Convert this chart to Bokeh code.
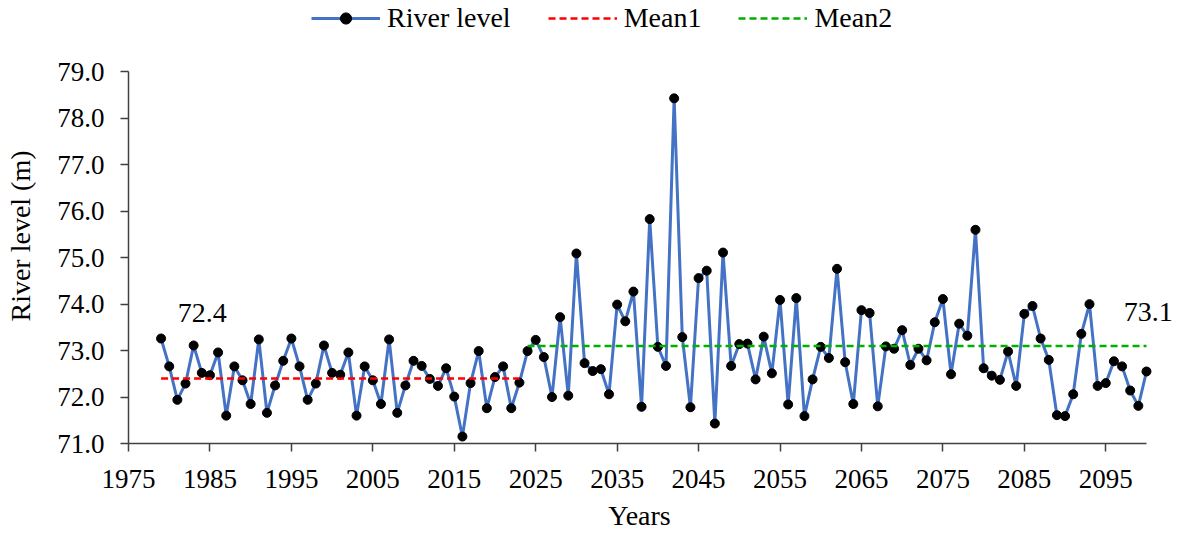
from bokeh.plotting import figure
from bokeh.models import (FixedTicker, PrintfTickFormatter, Legend, LegendItem,
                          Label, Range1d)
from bokeh.embed import file_html
from bokeh.resources import INLINE

# ---------------- data ----------------
years = list(range(1979, 2101))
river_level = [
    73.26, 72.66, 71.94, 72.29, 73.11, 72.52, 72.47, 72.96, 71.60, 72.66,  # 1979-1988
    72.36, 71.85, 73.24, 71.66, 72.25, 72.78, 73.26, 72.66, 71.94, 72.29,  # 1989-1998
    73.11, 72.52, 72.48, 72.96, 71.60, 72.66, 72.36, 71.85, 73.24, 71.66,  # 1999-2008
    72.25, 72.78, 72.67, 72.39, 72.24, 72.62, 72.01, 71.15, 72.30, 72.99,  # 2009-2018
    71.76, 72.43, 72.66, 71.76, 72.31, 72.99, 73.23, 72.86, 72.00, 73.72,  # 2019-2028
    72.03, 75.09, 72.73, 72.56, 72.60, 72.06, 73.99, 73.63, 74.27, 71.79,  # 2029-2038
    75.83, 73.08, 72.67, 78.43, 73.29, 71.78, 74.56, 74.72, 71.43, 75.11,  # 2039-2048
    72.67, 73.14, 73.15, 72.38, 73.30, 72.51, 74.09, 71.84, 74.13, 71.59,  # 2049-2058
    72.38, 73.08, 72.84, 74.76, 72.75, 71.85, 73.87, 73.81, 71.80, 73.09,  # 2059-2068
    73.04, 73.44, 72.69, 73.04, 72.79, 73.61, 74.11, 72.49, 73.58, 73.32,  # 2069-2078
    75.60, 72.62, 72.46, 72.37, 72.98, 72.24, 73.79, 73.96, 73.26, 72.80,  # 2079-2088
    71.61, 71.59, 72.06, 73.36, 74.00, 72.24, 72.30, 72.77, 72.66, 72.14,  # 2089-2098
    71.81, 72.55,                                                          # 2099-2100
]
mean1_years = [1979, 2023]
mean1_value = 72.4
mean2_years = [2024, 2100]
mean2_value = 73.1
x_ticks = [1975, 1985, 1995, 2005, 2015, 2025, 2035, 2045, 2055, 2065, 2075, 2085, 2095]
y_ticks = [71, 72, 73, 74, 75, 76, 77, 78, 79]

FONT = "Liberation Serif"
NBSP = "\u00a0"

# the frame is extended above 79 and right of 2100 so that the legend and the
# "73.1" label (which the frame would clip) fit; axis lines are bounded.
p = figure(width=1178, height=533, output_backend="svg", toolbar_location=None,
           x_range=Range1d(1975, 2103.93), y_range=Range1d(71, 80.536),
           min_border_left=128, min_border_right=0, min_border_top=0,
           min_border_bottom=89)
p.outline_line_color = None
p.xgrid.visible = False
p.ygrid.visible = False

# series
r_line = p.line(years, river_level, line_color="#4472C4", line_width=3)
r_dots = p.scatter(years, river_level, size=9, fill_color="black", line_color="black")
r_m1 = p.line(mean1_years, [mean1_value] * 2, line_color="#FF0000", line_width=2.5,
              line_dash="7 4")
r_m2 = p.line(mean2_years, [mean2_value] * 2, line_color="#00B000", line_width=2.5,
              line_dash="7 4")

# annotations
p.add_layout(Label(x=1981.05, y=73.80, text=f"{mean1_value:.1f}", text_font=FONT,
                   text_font_size="28px", text_color="black",
                   text_baseline="alphabetic"))
p.add_layout(Label(x=2097.2, y=73.82, text=f"{mean2_value:.1f}", text_font=FONT,
                   text_font_size="28px", text_color="black",
                   text_baseline="alphabetic"))

# axes
for ax in (p.xaxis[0], p.yaxis[0]):
    ax.axis_line_color = "#404040"
    ax.axis_line_width = 1.5
    ax.major_tick_line_color = "#404040"
    ax.major_tick_line_width = 1.5
    ax.major_tick_out = 8
    ax.major_tick_in = 0
    ax.minor_tick_out = 0
    ax.minor_tick_in = 0
    ax.major_label_text_font = FONT
    ax.major_label_text_font_size = "27px"
    ax.major_label_text_color = "black"
    ax.axis_label_text_font = FONT
    ax.axis_label_text_font_size = "28px"
    ax.axis_label_text_font_style = "normal"
    ax.axis_label_text_color = "black"

p.xaxis.ticker = FixedTicker(ticks=x_ticks)
p.xaxis.bounds = (1975, 2100)
p.xaxis.axis_label = "Years" + NBSP * 4
p.xaxis.major_label_standoff = 18
p.xaxis.axis_label_standoff = 9

p.yaxis.ticker = FixedTicker(ticks=y_ticks)
p.yaxis.bounds = (71, 79)
p.yaxis.formatter = PrintfTickFormatter(format="%.1f")
p.yaxis.axis_label = "River level (m)" + NBSP * 4
p.yaxis.major_label_standoff = 16
p.yaxis.axis_label_standoff = 18

legend = Legend(items=[
    LegendItem(label="River level", renderers=[r_line, r_dots]),
    LegendItem(label="Mean1", renderers=[r_m1]),
    LegendItem(label="Mean2", renderers=[r_m2]),
], orientation="horizontal", location=(183, 409))
legend.label_text_font = FONT
legend.label_text_font_size = "28px"
legend.label_text_color = "black"
legend.glyph_width = 69
legend.glyph_height = 28
legend.label_height = 28
legend.label_standoff = 7
legend.spacing = 37
legend.padding = 0
legend.margin = 0
legend.border_line_alpha = 0
legend.background_fill_alpha = 0
p.add_layout(legend, "center")

open("out.html", "w").write(file_html(p, INLINE))
